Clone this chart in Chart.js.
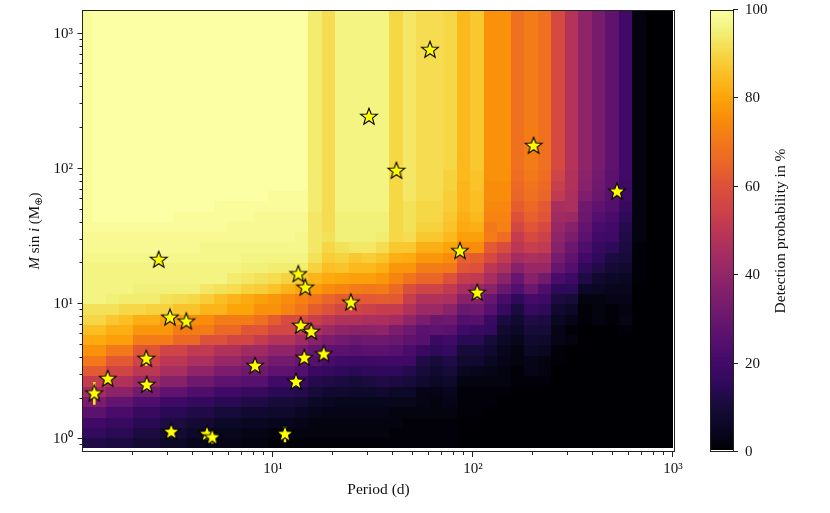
<!DOCTYPE html>
<html>
<head>
<meta charset="utf-8">
<title>Detection probability</title>
<script src="https://cdn.jsdelivr.net/npm/chart.js@4"></script>
<style>
  body { margin: 0; background: #fff; }
  canvas { position: absolute; top: 0; }
</style>
</head>
<body>
<canvas id="mainChart" width="700" height="513" style="left:0"></canvas>
<canvas id="barChart" width="130" height="513" style="left:700px"></canvas>
<script>
// Planets (period in d, M sin i in earth masses)
const planetPeriod = [1.278, 1.491, 2.325, 2.336, 2.682, 3.055, 3.686, 3.10, 4.68, 4.97, 8.13, 11.48, 13.03, 13.38, 14.5, 13.76, 15.54, 14.34, 17.93, 24.5, 60.95, 30.2, 41.4, 201, 525, 86.1, 105];
const planetMass = [2.18, 2.79, 3.93, 2.52, 21.2, 7.93, 7.41, 1.13, 1.09, 1.03, 3.48, 1.09, 2.65, 16.6, 13.2, 6.89, 6.22, 3.99, 4.25, 10.24, 757, 242, 96.5, 147.7, 67.8, 24.6, 12.1];
const planetMassLow = [1.80, 2.79, 3.50, 2.30, 21.2, 7.93, 7.41, 1.05, 1.00, 0.93, 3.20, 0.95, 2.45, 16.6, 13.2, 6.30, 6.00, 3.70, 4.25, 9.00, 757, 242, 96.5, 147.7, 67.8, 24.6, 11.0];
const planetMassHigh = [2.65, 2.79, 3.93, 2.52, 21.2, 7.93, 7.41, 1.13, 1.09, 1.03, 3.48, 1.25, 2.65, 16.6, 13.2, 6.89, 6.22, 3.99, 4.25, 10.24, 757, 242, 96.5, 147.7, 67.8, 24.6, 12.1];

// Bin edges of the detection map, log10 of the axis value
const logPeriodEdges = [0.0290,0.0965,0.1640,0.2315,0.2990,0.3665,0.4340,0.5015,0.5690,0.6365,0.7040,0.7715,0.8390,0.9065,0.9740,1.0415,1.1090,1.1765,1.2440,1.3115,1.3790,1.4465,1.5140,1.5815,1.6490,1.7165,1.7840,1.8515,1.9190,1.9865,2.0540,2.1215,2.1890,2.2565,2.3240,2.3915,2.4590,2.5265,2.5940,2.6615,2.7290,2.7965,2.8640,2.9315,2.9990];
const logMassEdges = [-0.0680,0.0082,0.0844,0.1606,0.2368,0.3130,0.3892,0.4654,0.5416,0.6178,0.6940,0.7702,0.8464,0.9226,0.9988,1.0750,1.1512,1.2274,1.3036,1.3798,1.4560,1.5322,1.6084,1.6846,1.7608,1.8370,1.9132,1.9894,2.0656,2.1418,2.2180,2.2942,2.3704,2.4466,2.5228,2.5990,2.6752,2.7514,2.8276,2.9038,2.9800,3.0562,3.1324,3.2086];

// Detection probability in %, first row is the lowest mass bin
const detection = [
[12,12,11,11,9,9,6,6,4,4,3,3,2,2,1,1,1,1,1,1,1,1,1,1,1,1,1,1,0,0,0,0,0,0,0,0,0,0,0,0,0,0,0,0],
[16,16,14,14,11,11,9,9,6,6,4,4,3,3,2,2,2,2,2,2,2,2,2,1,1,1,1,1,0,0,0,0,0,0,0,0,0,0,0,0,0,0,0,0],
[20,20,17,17,14,14,11,11,9,9,6,6,5,5,4,4,3,2,2,2,2,2,2,2,1,1,1,1,0,0,0,0,0,0,0,0,0,0,0,0,0,0,0,0],
[26,26,22,22,17,17,14,14,12,12,10,10,8,8,7,7,5,4,3,3,3,3,3,2,2,2,2,2,1,1,0,0,0,0,0,0,0,0,0,0,0,0,0,0],
[34,34,28,28,23,23,19,19,16,16,14,14,12,12,10,10,9,6,5,4,4,4,4,4,4,3,2,3,1,1,1,0,0,0,0,0,0,0,0,0,0,0,0,0],
[44,44,38,38,32,32,27,27,23,23,20,20,17,17,14,14,13,10,8,8,7,7,8,6,6,3,3,4,1,1,1,1,0,0,0,0,0,0,0,0,0,0,0,0],
[52,52,47,47,42,42,37,37,31,31,27,27,25,25,20,20,18,13,12,11,10,11,12,11,10,8,6,7,2,2,2,2,1,1,1,0,0,0,0,0,0,0,0,0],
[62,62,55,55,50,50,45,45,39,39,34,34,31,31,27,27,24,18,16,15,14,15,15,15,13,10,8,10,5,4,3,2,1,3,2,0,0,0,0,0,0,0,0,0],
[70,70,62,62,55,55,50,50,46,46,41,41,37,37,32,32,29,25,22,20,19,19,20,20,19,12,10,12,8,8,5,3,2,3,2,1,0,0,0,0,0,0,0,0],
[76,76,70,70,61,61,55,55,51,51,47,47,43,43,39,39,34,29,27,26,25,26,26,25,22,18,15,16,10,10,8,4,2,6,5,1,0,0,0,0,0,0,0,0],
[81,81,79,79,71,71,71,66,66,60,60,56,56,52,48,48,43,37,34,32,30,31,31,30,27,25,18,20,14,14,10,6,4,8,7,3,2,0,0,0,0,0,0,0],
[85,85,82,82,77,77,77,71,71,71,66,66,61,61,56,56,51,46,42,39,38,38,39,34,31,26,27,26,20,18,16,8,6,10,10,3,1,0,0,0,1,0,0,0],
[90,90,87,85,82,82,79,79,75,75,71,71,71,68,63,58,58,53,50,47,47,46,46,44,39,34,30,31,24,25,18,11,8,12,11,5,3,1,2,1,3,0,0,0],
[92,92,92,90,90,89,89,86,86,83,83,80,80,76,76,73,69,63,60,56,55,54,52,52,47,42,42,38,30,31,25,17,11,17,15,8,6,1,2,1,2,0,0,0],
[96,96,95,94,94,94,92,91,90,88,85,83,81,79,77,75,72,69,65,63,62,62,63,62,53,47,47,46,37,37,29,22,15,21,19,11,10,2,2,3,3,0,0,0],
[96,96,96,96,95,95,95,95,95,93,92,91,89,88,86,83,80,78,75,73,71,70,71,66,59,55,55,51,45,42,38,30,24,30,23,15,15,6,5,4,4,0,0,0],
[96,96,96,96,96,96,96,96,96,96,96,94,93,92,91,89,87,83,81,80,79,79,77,73,69,65,65,60,52,51,45,38,29,37,32,22,19,12,8,6,5,1,0,0],
[96,96,96,96,96,96,96,96,96,96,96,96,95,95,94,94,94,89,85,86,84,84,82,77,77,71,71,70,61,60,50,46,37,41,41,29,24,15,12,9,8,1,0,0],
[97,97,97,97,97,97,97,97,97,97,97,97,96,96,96,96,96,92,88,89,87,88,86,82,81,77,77,75,64,63,57,51,44,46,45,33,27,20,15,11,10,1,0,0],
[98,98,98,98,98,98,98,98,98,97,97,97,97,97,97,97,97,93,90,92,93,93,91,87,87,82,82,80,75,75,62,58,50,53,51,37,30,23,17,15,11,1,0,0],
[98,98,98,98,98,98,98,98,98,98,98,98,98,98,98,98,97,93,92,95,95,95,94,90,91,87,87,84,79,79,71,67,52,57,54,39,34,26,20,19,12,2,0,0],
[99,99,99,99,99,99,99,99,99,99,99,98,98,98,98,98,98,93,91,95,95,95,95,90,92,89,89,86,81,82,70,72,56,61,57,41,37,28,22,20,13,2,0,0],
[99,100,100,100,100,100,100,99,99,99,99,99,99,98,98,98,98,93,91,95,95,95,95,90,92,90,90,87,82,84,73,73,60,64,61,43,42,30,24,22,15,2,0,0],
[99,100,100,100,100,100,100,100,100,100,99,99,99,99,99,99,99,94,91,96,96,96,96,90,92,90,90,88,83,85,74,74,63,66,62,45,46,31,27,24,17,2,0,0],
[99,100,100,100,100,100,100,100,100,100,100,100,100,100,99,99,99,94,91,96,96,96,96,90,93,91,91,88,83,85,75,75,65,68,65,51,46,35,30,25,19,2,0,0],
[99,100,100,100,100,100,100,100,100,100,100,100,100,100,100,100,100,94,91,96,96,96,96,90,93,91,91,89,83,86,75,75,66,69,66,53,47,37,31,26,19,2,0,0],
[99,100,100,100,100,100,100,100,100,100,100,100,100,100,100,100,100,94,91,96,96,96,96,90,93,91,91,89,84,86,76,76,67,70,67,55,47,38,32,26,20,2,0,0],
[99,100,100,100,100,100,100,100,100,100,100,100,100,100,100,100,100,94,91,96,96,96,96,90,93,91,91,90,84,87,76,76,68,71,68,57,48,39,33,27,20,2,0,0],
[99,100,100,100,100,100,100,100,100,100,100,100,100,100,100,100,100,94,91,96,96,96,96,90,93,91,91,90,84,87,76,76,68,71,68,57,48,39,33,27,20,2,0,0],
[99,100,100,100,100,100,100,100,100,100,100,100,100,100,100,100,100,94,91,96,96,96,96,90,93,91,91,90,84,87,76,76,68,71,68,57,48,39,33,27,20,2,0,0],
[99,100,100,100,100,100,100,100,100,100,100,100,100,100,100,100,100,94,91,96,96,96,96,90,93,91,91,90,84,87,76,76,68,71,68,57,48,39,33,27,20,2,0,0],
[99,100,100,100,100,100,100,100,100,100,100,100,100,100,100,100,100,94,91,96,96,96,96,90,93,91,91,90,84,87,76,76,68,71,68,57,48,39,33,27,20,2,0,0],
[99,100,100,100,100,100,100,100,100,100,100,100,100,100,100,100,100,94,91,96,96,96,96,90,93,91,91,90,84,87,76,76,68,71,68,57,48,39,33,27,20,2,0,0],
[99,100,100,100,100,100,100,100,100,100,100,100,100,100,100,100,100,94,91,96,96,96,96,90,93,91,91,90,84,87,76,76,68,71,68,57,48,39,33,27,20,2,0,0],
[99,100,100,100,100,100,100,100,100,100,100,100,100,100,100,100,100,94,91,96,96,96,96,90,93,91,91,90,84,87,76,76,68,71,68,57,48,39,33,27,20,2,0,0],
[99,100,100,100,100,100,100,100,100,100,100,100,100,100,100,100,100,94,91,96,96,96,96,90,93,91,91,90,84,87,76,76,68,71,68,57,48,39,33,27,20,2,0,0],
[99,100,100,100,100,100,100,100,100,100,100,100,100,100,100,100,100,94,91,96,96,96,96,90,93,91,91,90,84,87,76,76,68,71,68,57,48,39,33,27,20,2,0,0],
[99,100,100,100,100,100,100,100,100,100,100,100,100,100,100,100,100,94,91,96,96,96,96,90,93,91,91,90,84,87,76,76,68,71,68,57,48,39,33,27,20,2,0,0],
[99,100,100,100,100,100,100,100,100,100,100,100,100,100,100,100,100,94,91,96,96,96,96,90,93,91,91,90,84,87,76,76,68,71,68,57,48,39,33,27,20,2,0,0],
[99,100,100,100,100,100,100,100,100,100,100,100,100,100,100,100,100,94,91,96,96,96,96,90,93,91,91,90,84,87,76,76,68,71,68,57,48,39,33,27,20,2,0,0],
[99,100,100,100,100,100,100,100,100,100,100,100,100,100,100,100,100,94,91,96,96,96,96,90,93,91,91,90,84,87,76,76,68,71,68,57,48,39,33,27,20,2,0,0],
[99,100,100,100,100,100,100,100,100,100,100,100,100,100,100,100,100,94,91,96,96,96,96,90,93,91,91,90,84,87,76,76,68,71,68,57,48,39,33,27,20,2,0,0],
[99,100,100,100,100,100,100,100,100,100,100,100,100,100,100,100,100,94,91,96,96,96,96,90,93,91,91,90,84,87,76,76,68,71,68,57,48,39,33,27,20,2,0,0]
];

// Axis ticks
const periodMajor = [10, 100, 1000];
const periodMinor = [2,3,4,5,6,7,8,9,20,30,40,50,60,70,80,90,200,300,400,500,600,700,800,900];
const massMajor = [1, 10, 100, 1000];
const massMinor = [0.9,2,3,4,5,6,7,8,9,20,30,40,50,60,70,80,90,200,300,400,500,600,700,800,900];
const powerLabels = { 1: '10⁰', 10: '10¹', 100: '10²', 1000: '10³' };
const barTicks = [0, 20, 40, 60, 80, 100];

const FONT = "'Liberation Serif', serif";
const TEXT = '#111';

// inferno colormap sampled every 5 %
const inferno = ['#000004','#0a0722','#160b39','#2f0a5b','#420a68','#57106e','#6a176e','#7f1e6c','#932667','#a82e5f','#bc3754','#cf4446','#dd513a','#ea6528','#f37819','#f98c0a','#fca50a','#fbbe23','#f6d746','#f1f179','#fcffa4'];
const stops = inferno.map(c => [1, 3, 5].map(i => parseInt(c.slice(i, i + 2), 16)));
function colorFor(v) {
  const t = Math.min(Math.max(v, 0), 100) / 5;
  const i = Math.min(Math.floor(t), stops.length - 2);
  const f = t - i;
  const c = stops[i].map((a, k) => Math.round(a + (stops[i + 1][k] - a) * f));
  return `rgb(${c[0]},${c[1]},${c[2]})`;
}

// Five pointed star marker
function makeStar() {
  const cv = document.createElement('canvas');
  cv.width = 22;
  cv.height = 22;
  const c = cv.getContext('2d');
  c.beginPath();
  for (let i = 0; i < 10; i++) {
    const r = i % 2 ? 3.7 : 8.8;
    const a = -Math.PI / 2 + i * Math.PI / 5;
    c.lineTo(11 + r * Math.cos(a), 11 + r * Math.sin(a));
  }
  c.closePath();
  c.fillStyle = '#ffff00';
  c.fill();
  c.lineWidth = 1.1;
  c.strokeStyle = '#000';
  c.stroke();
  return cv;
}

const heatCells = {
  id: 'heatCells',
  beforeDatasetsDraw(chart) {
    const { ctx, chartArea: a, scales: { x, y } } = chart;
    ctx.save();
    ctx.beginPath();
    ctx.rect(a.left, a.top, a.width, a.height);
    ctx.clip();
    detection.forEach((row, r) => {
      row.forEach((v, c) => {
        const x0 = Math.round(x.getPixelForValue(10 ** logPeriodEdges[c]));
        const x1 = Math.round(x.getPixelForValue(10 ** logPeriodEdges[c + 1]));
        const y0 = Math.round(y.getPixelForValue(10 ** logMassEdges[r]));
        const y1 = Math.round(y.getPixelForValue(10 ** logMassEdges[r + 1]));
        ctx.fillStyle = colorFor(v);
        ctx.fillRect(x0, y1, x1 - x0, y0 - y1);
      });
    });
    ctx.restore();
  }
};

function drawFrame(chart, majors) {
  const { ctx, chartArea: a, scales } = chart;
  ctx.save();
  ctx.strokeStyle = '#222';
  ctx.lineWidth = 1;
  ctx.strokeRect(a.left - 0.5, a.top + 0.5, a.width + 1, a.height - 1);
  Object.values(scales).forEach(s => {
    if (!s.options.display) return;
    s.ticks.forEach(t => {
      const len = majors.includes(t.value) ? 5 : 3;
      const p = Math.round(s.getPixelForValue(t.value)) - 0.5;
      ctx.beginPath();
      if (s.isHorizontal()) {
        ctx.moveTo(p, a.bottom);
        ctx.lineTo(p, a.bottom + len);
      } else if (s.position === 'left') {
        ctx.moveTo(a.left - 0.5, p);
        ctx.lineTo(a.left - 0.5 - len, p);
      } else {
        ctx.moveTo(a.right, p);
        ctx.lineTo(a.right + len, p);
      }
      ctx.stroke();
    });
  });
  ctx.restore();
}

// Rotated text made of differently styled pieces
function drawRotated(ctx, cx, cy, pieces) {
  ctx.save();
  ctx.translate(cx, cy);
  ctx.rotate(-Math.PI / 2);
  ctx.fillStyle = TEXT;
  ctx.textBaseline = 'alphabetic';
  let total = 0;
  pieces.forEach(p => { ctx.font = p.font; total += ctx.measureText(p.text).width; });
  let pos = -total / 2;
  pieces.forEach(p => {
    ctx.font = p.font;
    ctx.fillText(p.text, pos, p.dy || 0);
    pos += ctx.measureText(p.text).width;
  });
  ctx.restore();
}

const mainFrame = {
  id: 'mainFrame',
  afterDraw(chart) {
    drawFrame(chart, periodMajor.concat(massMajor));
    const r = `15px ${FONT}`;
    const i = `italic 15px ${FONT}`;
    drawRotated(chart.ctx, 39, 231, [
      { text: 'M', font: i },
      { text: ' sin ', font: r },
      { text: 'i', font: i },
      { text: ' (M', font: r },
      { text: '⊕', font: `10px 'DejaVu Sans'`, dy: 3 },
      { text: ')', font: r }
    ]);
  }
};

const errorLine = { x: [], y: [] };
planetPeriod.forEach((p, i) => {
  if (planetMassLow[i] === planetMassHigh[i]) return;
  errorLine.x.push(p, p, NaN);
  errorLine.y.push(planetMassLow[i], planetMassHigh[i], NaN);
});

new Chart(document.getElementById('mainChart'), {
  type: 'scatter',
  data: {
    datasets: [
      {
        data: planetPeriod.map((p, i) => ({ x: p, y: planetMass[i] })),
        pointStyle: makeStar(),
        pointRadius: 8,
        order: 1
      },
      {
        data: errorLine.x.map((p, i) => ({ x: p, y: errorLine.y[i] })),
        showLine: true,
        spanGaps: false,
        borderColor: '#fbe91e',
        borderWidth: 2.5,
        pointRadius: 0,
        order: 2
      }
    ]
  },
  options: {
    responsive: false,
    animation: false,
    layout: { padding: { top: 10, right: 26, left: 0, bottom: 0 } },
    plugins: { legend: { display: false }, tooltip: { enabled: false } },
    scales: {
      x: {
        type: 'logarithmic',
        min: 1.122,
        max: 1012,
        afterBuildTicks: s => { s.ticks = periodMajor.concat(periodMinor).sort((a, b) => a - b).map(v => ({ value: v })); },
        afterFit: s => { s.height = 61; s.paddingLeft = 0; s.paddingRight = 0; },
        grid: { display: false },
        border: { display: false },
        ticks: {
          autoSkip: false,
          maxRotation: 0,
          minRotation: 0,
          padding: 0,
          color: TEXT,
          font: { family: FONT, size: 15 },
          callback: v => powerLabels[v] || ''
        },
        title: {
          display: true,
          text: 'Period (d)',
          color: TEXT,
          font: { family: FONT, size: 15.5 },
          padding: { top: 0, bottom: 14 }
        }
      },
      y: {
        type: 'logarithmic',
        min: 0.805,
        max: 1497,
        afterBuildTicks: s => { s.ticks = massMajor.concat(massMinor).sort((a, b) => a - b).map(v => ({ value: v })); },
        afterFit: s => { s.width = 83; s.paddingTop = 0; s.paddingBottom = 0; },
        grid: { display: false },
        border: { display: false },
        ticks: {
          autoSkip: false,
          padding: 2,
          color: TEXT,
          font: { family: FONT, size: 15 },
          callback: v => powerLabels[v] || ''
        }
      }
    }
  },
  plugins: [heatCells, mainFrame]
});

// Colour bar, drawn against its own 0-100 scale
const barLevels = [];
for (let v = 0.5; v < 100; v += 0.5) barLevels.push(v);

new Chart(document.getElementById('barChart'), {
  type: 'scatter',
  data: { datasets: [{ data: [] }] },
  options: {
    responsive: false,
    animation: false,
    layout: { padding: { top: 10, left: 11, right: 0, bottom: 0 } },
    plugins: { legend: { display: false }, tooltip: { enabled: false } },
    scales: {
      x: { display: false, afterFit: s => { s.height = 61; } },
      y: {
        position: 'right',
        min: 0,
        max: 100,
        afterBuildTicks: s => { s.ticks = barTicks.map(v => ({ value: v })); },
        afterFit: s => { s.width = 97; s.paddingTop = 0; s.paddingBottom = 0; },
        grid: { display: false },
        border: { display: false },
        ticks: {
          padding: 4,
          color: TEXT,
          font: { family: FONT, size: 15 }
        }
      }
    }
  },
  plugins: [{
    id: 'colorBar',
    beforeDatasetsDraw(chart) {
      const { ctx, chartArea: a, scales: { y } } = chart;
      barLevels.forEach(v => {
        const y0 = Math.round(y.getPixelForValue(v));
        const y1 = Math.round(y.getPixelForValue(v + 0.5));
        ctx.fillStyle = colorFor(v);
        ctx.fillRect(a.left, y1, a.width, y0 - y1);
      });
    },
    afterDraw(chart) {
      drawFrame(chart, barTicks);
      drawRotated(chart.ctx, 85, 231, [{ text: 'Detection probability in %', font: `15.5px ${FONT}` }]);
    }
  }]
});
</script>
</body>
</html>
